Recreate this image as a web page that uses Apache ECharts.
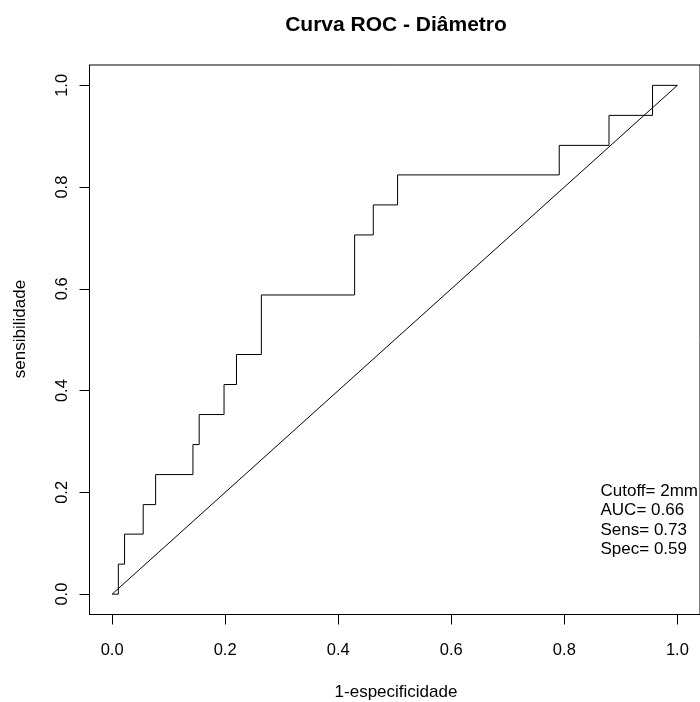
<!DOCTYPE html>
<html>
<head>
<meta charset="utf-8">
<script src="https://cdn.jsdelivr.net/npm/echarts@6/dist/echarts.min.js"></script>
<style>
html,body{margin:0;padding:0;background:#fff;}
#chart{width:700px;height:702px;}
</style>
</head>
<body>
<div id="chart"></div>
<script>
// ROC curve corner points (1-especificidade, sensibilidade)
var fpr = [0, 0.011, 0.022, 0.055, 0.077, 0.143, 0.154, 0.198, 0.220, 0.264, 0.429, 0.462, 0.505, 0.791, 0.879, 0.956, 1.0];
var tpr = [0, 0.059, 0.118, 0.176, 0.235, 0.294, 0.353, 0.412, 0.471, 0.588, 0.706, 0.765, 0.824, 0.882, 0.941, 1.0, 1.0];
var diagX = [0, 1];
var diagY = [0, 1];
var tickValues = [0, 0.2, 0.4, 0.6, 0.8, 1.0];
var titleText = 'Curva ROC - Diâmetro';
var xTitle = '1-especificidade';
var yTitle = 'sensibilidade';
var notes = ['Cutoff= 2mm', 'AUC= 0.66', 'Sens= 0.73', 'Spec= 0.59'];

var FONT = '"Liberation Sans", Arial, sans-serif';
var chart = echarts.init(document.getElementById('chart'), null, {renderer: 'canvas'});

var rocData = fpr.map(function (x, i) { return [x, tpr[i]]; });
var diagData = diagX.map(function (x, i) { return [x, diagY[i]]; });

var graphics = [
  {type: 'text', x: 396, y: 25,
   style: {text: titleText, fill: '#000', font: 'bold 21px ' + FONT, textAlign: 'center', textVerticalAlign: 'middle'}},
  {type: 'text', x: 396, y: 692,
   style: {text: xTitle, fill: '#000', font: '17px ' + FONT, textAlign: 'center', textVerticalAlign: 'middle'}},
  {type: 'text', x: 20.5, y: 329, rotation: Math.PI / 2,
   style: {text: yTitle, fill: '#000', font: '17px ' + FONT, textAlign: 'center', textVerticalAlign: 'middle'}}
];
notes.forEach(function (t, i) {
  graphics.push({type: 'text', x: 600.5, y: 491.3 + i * 19.3,
    style: {text: t, fill: '#000', font: '17px ' + FONT, textAlign: 'left', textVerticalAlign: 'middle'}});
});

chart.setOption({
  animation: false,
  backgroundColor: '#fff',
  grid: {left: 89.5, top: 65, width: 614, height: 549.5, show: true, borderColor: '#000', borderWidth: 1, backgroundColor: 'transparent'},
  xAxis: {
    type: 'value', min: -0.04, max: 1.04,
    axisLine: {show: true, onZero: false, lineStyle: {color: '#000', width: 1}},
    axisTick: {show: true, inside: false, length: 10, customValues: tickValues, lineStyle: {color: '#000', width: 1}},
    axisLabel: {show: true, customValues: tickValues, margin: 27, color: '#000', fontSize: 16.5, fontFamily: FONT,
      formatter: function (v) { return Number(v).toFixed(1); }},
    splitLine: {show: false}
  },
  yAxis: {
    type: 'value', min: -0.04, max: 1.04,
    axisLine: {show: true, onZero: false, lineStyle: {color: '#000', width: 1}},
    axisTick: {show: true, inside: false, length: 10, customValues: tickValues, lineStyle: {color: '#000', width: 1}},
    axisLabel: {show: true, customValues: tickValues, margin: 19, rotate: 90, color: '#000', fontSize: 16.5, fontFamily: FONT,
      formatter: function (v) { return Number(v).toFixed(1); }},
    splitLine: {show: false}
  },
  series: [
    {type: 'line', data: rocData, step: 'end', symbol: 'none', lineStyle: {color: '#000', width: 1}},
    {type: 'line', data: diagData, symbol: 'none', lineStyle: {color: '#000', width: 1}}
  ],
  graphic: graphics
});
</script>
</body>
</html>
